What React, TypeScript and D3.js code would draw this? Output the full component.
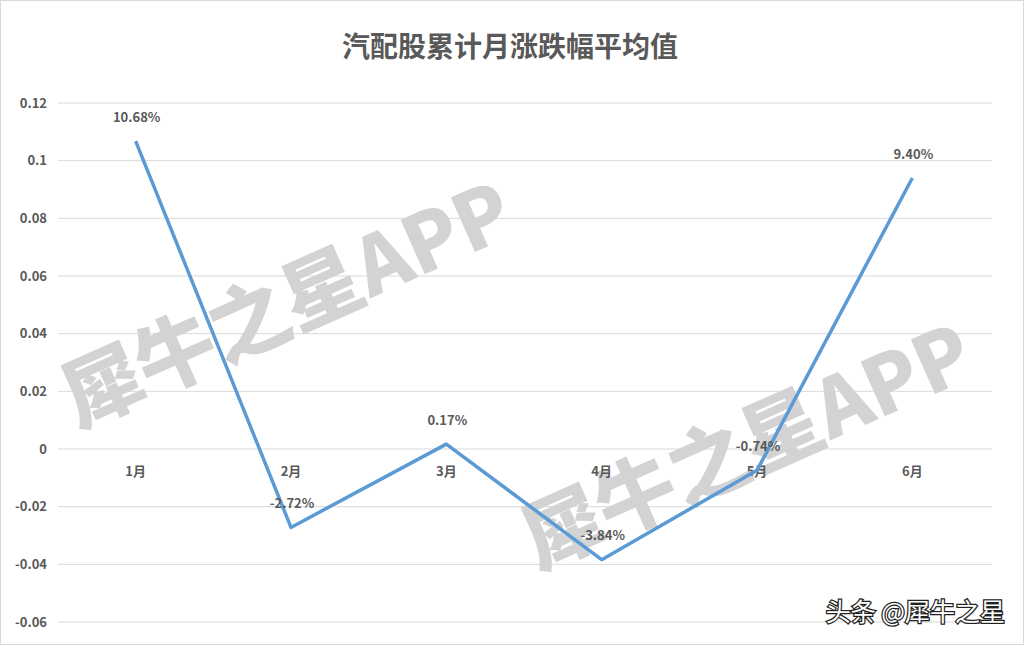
import React from "react";
import * as d3 from "d3";

const months = ["1月", "2月", "3月", "4月", "5月", "6月"];
const values = [0.1068, -0.0272, 0.0017, -0.0384, -0.0074, 0.094];
const yTicks = [0.12, 0.1, 0.08, 0.06, 0.04, 0.02, 0, -0.02, -0.04, -0.06];
const title = "汽配股累计月涨跌幅平均值";
const watermark = "犀牛之星APP";
const credit = "头条 @犀牛之星";

const W = 1024;
const H = 645;
const font = "'Noto Sans CJK SC', 'Noto Sans', sans-serif";
const textColor = "#595959";

export default function App() {
  const x = d3.scalePoint<string>().domain(months).range([58, 990]).padding(0.5);
  const y = d3.scaleLinear().domain([-0.06, 0.12]).range([622, 103]);
  const line = d3
    .line<number>()
    .x((_, i) => x(months[i]) as number)
    .y((d) => y(d));

  return (
    <svg
      width={W}
      height={H}
      style={{ position: "fixed", left: 0, top: 0, background: "#fff" }}
      fontFamily={font}
    >
      <rect x={0.5} y={0.5} width={W - 1} height={H - 1} fill="#fff" stroke="#d9d9d9" />
      <text
        x={510}
        y={57}
        textAnchor="middle"
        fontSize={28}
        fontWeight="bold"
        fill={textColor}
      >
        {title}
      </text>
      {yTicks.map((t) => (
        <g key={t}>
          <line x1={58} x2={992} y1={y(t)} y2={y(t)} stroke="#d9d9d9" strokeWidth={1} />
          <text
            x={47}
            y={y(t)}
            dy="0.35em"
            textAnchor="end"
            fontSize={13}
            fontWeight="bold"
            fill={textColor}
          >
            {String(t)}
          </text>
        </g>
      ))}
      {[
        [287, 305],
        [747, 447],
      ].map(([cx, cy], i) => (
        <text
          key={i}
          transform={`translate(${cx},${cy}) rotate(-24)`}
          textAnchor="middle"
          dy="0.35em"
          fontSize={80}
          fontWeight={900}
          fill="#d3d3d3"
          fontFamily={font}
        >
          {watermark}
        </text>
      ))}
      {months.map((m) => (
        <text
          key={m}
          x={x(m)}
          y={y(0) + 22}
          dy="0.35em"
          textAnchor="middle"
          fontSize={13}
          fontWeight="bold"
          fill={textColor}
        >
          {m}
        </text>
      ))}
      <path d={line(values) || ""} fill="none" stroke="#5b9bd5" strokeWidth={3.5} strokeLinejoin="round" />
      {values.map((v, i) => (
        <text
          key={i}
          x={(x(months[i]) as number) + 1}
          y={y(v) - 24}
          dy="0.35em"
          textAnchor="middle"
          fontSize={13}
          fontWeight="bold"
          fill={textColor}
        >
          {(v * 100).toFixed(2) + "%"}
        </text>
      ))}
      <text
        x={1005}
        y={621}
        textAnchor="end"
        fontSize={25}
        fill="#fff"
        stroke="#222"
        strokeWidth={2.5}
        paintOrder="stroke"
        fontFamily={font}
      >
        {credit}
      </text>
    </svg>
  );
}
